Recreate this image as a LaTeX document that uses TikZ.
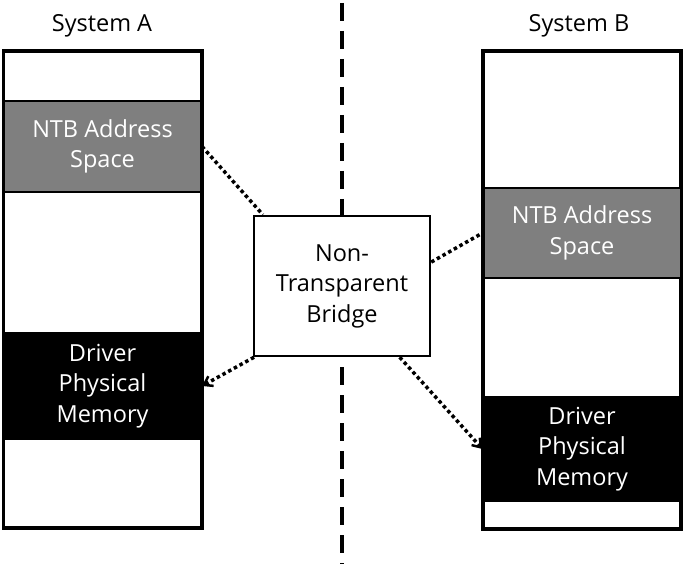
\documentclass[tikz,border=0pt]{standalone}
\usepackage{fontspec}
\setmainfont{Open Sans}
\usetikzlibrary{arrows.meta}
\definecolor{ntbgray}{RGB}{127,127,127}

\begin{document}
\begin{tikzpicture}[x=1pt,y=-1pt,
  every node/.style={font=\fontsize{23.5}{30.5}\selectfont, align=center, inner sep=0pt},
  column/.style={draw, line width=2.5pt, minimum width=197pt},
  ntbblock/.style={draw, line width=2pt, fill=ntbgray, text=white, minimum width=197pt},
  drvblock/.style={draw, line width=2pt, fill=black, text=white, minimum width=197pt},
  bridgebox/.style={draw, line width=2.5pt, fill=white, minimum width=176pt, minimum height=140pt},
  divider/.style={line width=3.5pt, dash pattern=on 18pt off 10pt},
  link/.style={line width=3.5pt, dash pattern=on 3.5pt off 3pt},
  linkarrow/.style={link, -{Straight Barb[length=8pt,width=11pt,line width=2.5pt]}}]
\useasboundingbox (0,0) rectangle (685,564);
% dividing line between the two systems
\coordinate (top) at (342,3);
\coordinate (bottom) at (342,564);
\draw[divider] (top) -- (bottom);
% system A
\node (labelA) at (102,26) {System A};
\node[column, minimum height=475pt] (colA) at (102.5,289.5) {};
\node[ntbblock, minimum height=91pt] (ntbA) at (102.5,146.5) {NTB Address\\Space};
\node[drvblock, minimum height=106pt] (drvA) at (102.5,386) {Driver\\Physical\\Memory};
\draw[line width=2.5pt] (colA.north west) rectangle (colA.south east);
% system B
\node (labelB) at (579,26) {System B};
\node[column, minimum height=476pt] (colB) at (582,290) {};
\node[ntbblock, minimum height=90pt] (ntbB) at (582,233) {NTB Address\\Space};
\node[drvblock, minimum height=104pt] (drvB) at (582,449) {Driver\\Physical\\Memory};
\draw[line width=2.5pt] (colB.north west) rectangle (colB.south east);
% the bridge
\node[bridgebox] (ntb) at (342,286) {Non-\\Transparent\\Bridge};
\draw[link] (ntbA.east) -- (ntb.138);
\draw[link] (ntb.15) -- (ntbB.west);
\draw[linkarrow] (ntb.219) -- (drvA.east);
\draw[linkarrow] (ntb.-51) -- (drvB.west);
\end{tikzpicture}
\end{document}
